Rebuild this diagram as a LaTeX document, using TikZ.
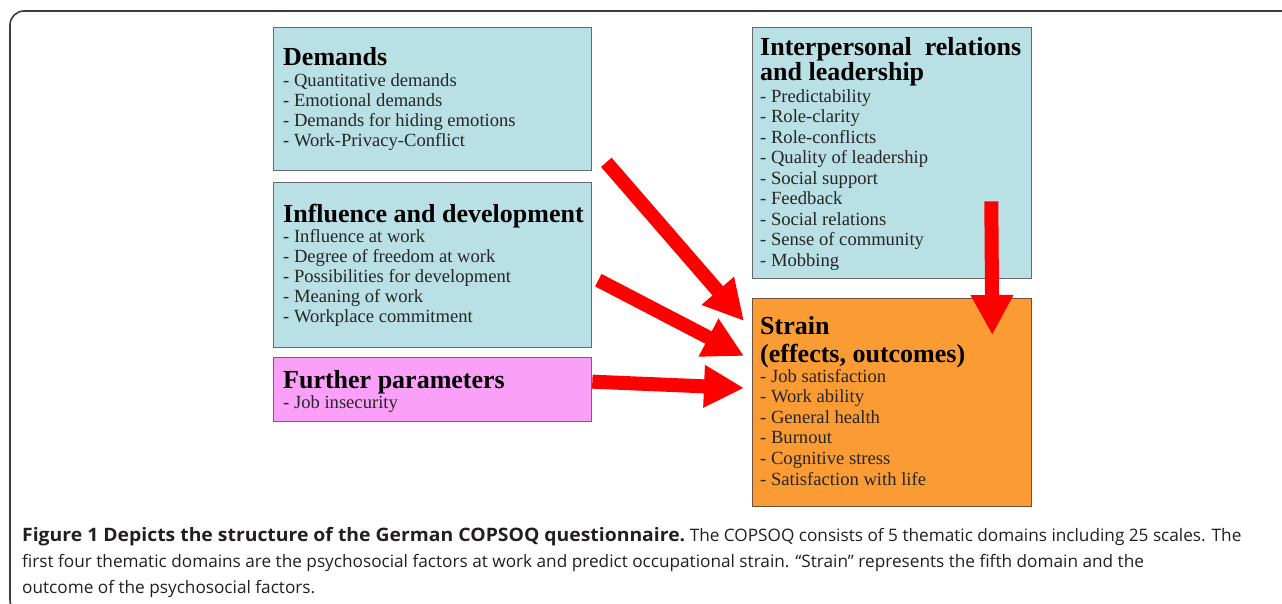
\documentclass[tikz,border=0pt]{standalone}
\usepackage{fontspec}
\usepackage{graphicx}
\setmainfont{Liberation Serif}
\newfontfamily\capfont{Open Sans}
\usetikzlibrary{arrows.meta,calc}

\definecolor{boxblue}{RGB}{185,224,228}
\definecolor{boxpink}{RGB}{250,160,248}
\definecolor{boxorange}{RGB}{250,155,52}
\definecolor{boxline}{RGB}{105,105,105}
\definecolor{strainline}{RGB}{110,80,60}
\definecolor{framegray}{RGB}{60,60,60}
\definecolor{captext}{RGB}{35,31,32}

% bold lead-in of the figure caption, set slightly wider
\newcommand{\capbold}[1]{{\fontsize{18.5}{20}\selectfont\bfseries\scalebox{1.047}[1]{#1}}}

\tikzset{
  box/.style={draw=boxline, line width=1.3pt, anchor=north west, inner sep=0pt},
  head/.style={anchor=base west, inner sep=0pt, text=black,
               font=\fontsize{26}{28}\selectfont\bfseries},
  item/.style={anchor=base west, inner sep=0pt, text=black!85,
               font=\fontsize{18.6}{20}\selectfont},
  captionline/.style={anchor=base west, inner sep=0pt, text=captext,
               font=\capfont\fontsize{17.2}{20}\selectfont},
  bigarrow/.style={draw=red, line width=14pt,
               -{Triangle[width=40pt,length=40pt]}},
  frameline/.style={draw=framegray, line width=1.6pt, rounded corners=14pt}
}

\begin{document}
\begin{tikzpicture}[x=1pt,y=-1pt]
\useasboundingbox (0,0) rectangle (1282,603);

% outer frame of the figure
\draw[frameline] (1300,11) -- (10,11) -- (10,614) -- (60,614);

% domain boxes
\node[box, fill=boxblue,   minimum width=318, minimum height=143] (demands)   at (273,27)  {};
\node[box, fill=boxblue,   minimum width=318, minimum height=165] (influence) at (273,182) {};
\node[box, fill=boxpink,   minimum width=318, minimum height=64]  (further)   at (273,357) {};
\node[box, fill=boxblue,   minimum width=279, minimum height=251] (interp)    at (752,27)  {};
\node[box, fill=boxorange, draw=strainline, minimum width=279, minimum height=208] (strain) at (752,298) {};

% Demands
\node[head] (demH) at (283,65) {Demands};
\foreach \t [count=\i] in {- Quantitative demands, - Emotional demands,
    - Demands for hiding emotions, - Work-Privacy-Conflict}
  \node[item] (dem\i) at (283,{86+20*(\i-1)}) {\t};

% Influence and development
\node[head] (infH) at (283,222) {Influence and development};
\foreach \t [count=\i] in {- Influence at work, - Degree of freedom at work,
    - Possibilities for development, - Meaning of work, - Workplace commitment}
  \node[item] (inf\i) at (283,{242+20*(\i-1)}) {\t};

% Further parameters
\node[head] (furH) at (283,388) {Further parameters};
\node[item] (fur1) at (283,408) {- Job insecurity};

% Interpersonal relations and leadership
\node[head] (intH1) at (760,55) {Interpersonal\ \ relations};
\node[head] (intH2) at (760,80) {and leadership};
\foreach \t [count=\i] in {- Predictability, - Role-clarity, - Role-conflicts,
    - Quality of leadership, - Social support, - Feedback, - Social relations,
    - Sense of community, - Mobbing}
  \node[item] (int\i) at (760,{102+20.5*(\i-1)}) {\t};

% Strain
\node[head] (strH1) at (760,334) {Strain};
\node[head] (strH2) at (760,362) {(effects,\ outcomes)};
\foreach \t [count=\i] in {- Job satisfaction, - Work ability, - General health,
    - Burnout, - Cognitive stress, - Satisfaction with life}
  \node[item] (str\i) at (760,{382+20.6*(\i-1)}) {\t};

% arrow end points
\coordinate (a1s) at ($(demands.south east)+(14,-9)$);
\coordinate (a1e) at ($(strain.north west)+(-8,23)$);
\coordinate (a2s) at ($(influence.east)+(6,15)$);
\coordinate (a2e) at ($(strain.north west)+(-8,58)$);
\coordinate (a3s) at ($(further.east)+(0,-8)$);
\coordinate (a3e) at ($(strain.north west)+(-8,90)$);
\coordinate (a4s) at ($(interp.south east)+(-41,-78)$);
\coordinate (a4e) at ($(strain.north east)+(-40,37)$);

\draw[bigarrow] (a1s) -- (a1e);
\draw[bigarrow] (a2s) -- (a2e);
\draw[bigarrow] (a3s) -- (a3e);
\draw[bigarrow] (a4s) -- (a4e);

% caption
\node[captionline] (cap1) at (22,541) {\capbold{Figure 1 Depicts the structure of the German COPSOQ questionnaire.} The COPSOQ consists of 5 thematic domains including 25 scales. The};
\node[captionline] (cap2) at (22,567) {first four thematic domains are the psychosocial factors at work and predict occupational strain. “Strain” represents the fifth domain and the};
\node[captionline] (cap3) at (22,593) {outcome of the psychosocial factors.};
\end{tikzpicture}
\end{document}
